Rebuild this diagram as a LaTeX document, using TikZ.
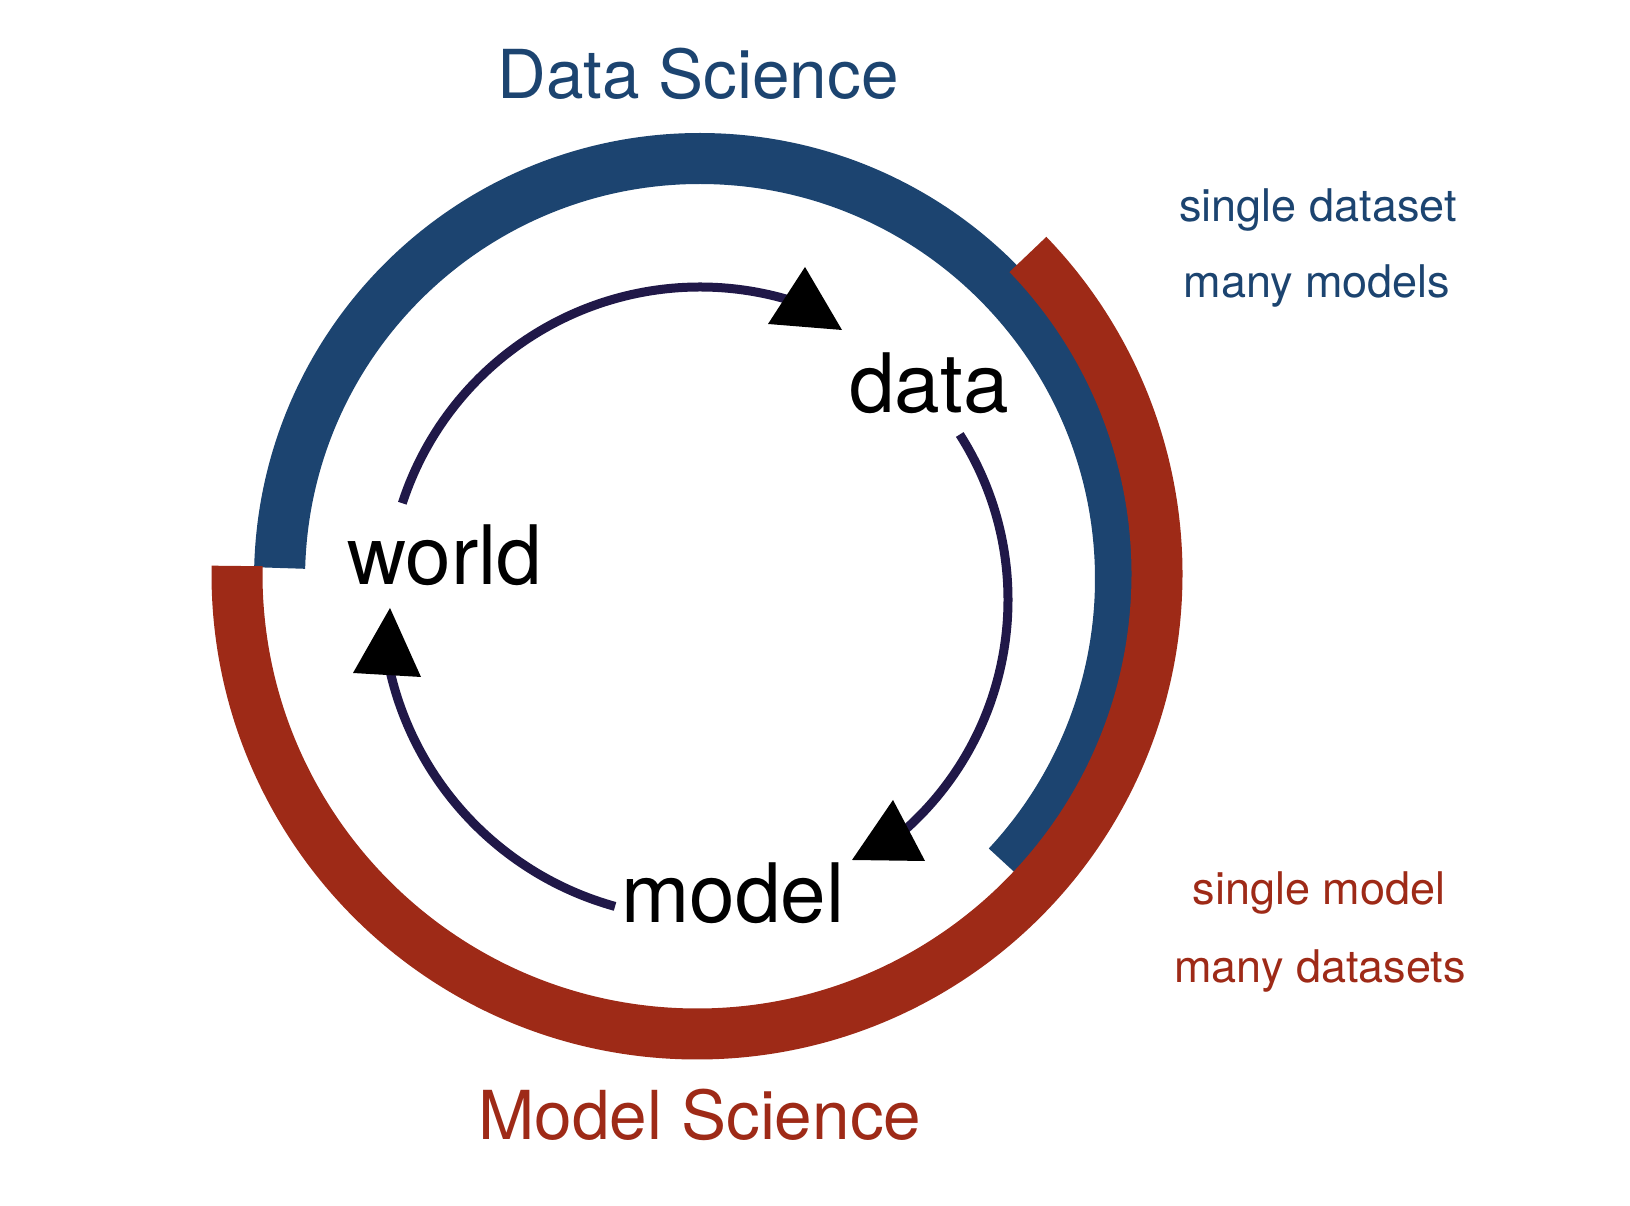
\documentclass[tikz,border=0pt]{standalone}
\usepackage{fontspec}
\setmainfont{TeX Gyre Heros}
\definecolor{dsblue}{RGB}{28,68,112}
\definecolor{msred}{RGB}{158,42,23}
\definecolor{cyc}{RGB}{32,24,72}
\begin{document}
\begin{tikzpicture}[x=1pt,y=1pt,
  band/.style={line width=51pt, line cap=butt},
  cycarc/.style={draw=cyc, line width=9pt, line cap=butt},
  tip/.style={fill=black},
  lbl/.style={inner sep=0pt, anchor=base, text=black, font=\fontsize{82}{90}\selectfont},
  ttl/.style={inner sep=0pt, anchor=base, font=\fontsize{67.5}{75}\selectfont},
  note/.style={inner sep=0pt, anchor=base, font=\fontsize{45}{50}\selectfont}]
\fill[white] (0,0) rectangle (1630,1206);
\useasboundingbox (0,0) rectangle (1630,1206);
% centres
\coordinate (cb) at (700,627);
\coordinate (cr) at (697,632);
\coordinate (ci) at (700,606);
% outer bands
\draw[band, dsblue] ([shift={(178.5:420.5)}]cb) arc[start angle=178.5, end angle=-43, radius=420.5];
\draw[band, msred] ([shift={(179:460)}]cr) arc[start angle=179, end angle=404, radius=460];
% cycle arcs
\draw[cycarc] ([shift={(162:313)}]ci) arc[start angle=162, end angle=70, radius=313];
\draw[cycarc] ([shift={(32.5:308)}]ci) arc[start angle=32.5, end angle=-52, radius=308];
\draw[cycarc] ([shift={(254.5:318)}]ci) arc[start angle=254.5, end angle=192, radius=318];
% arrow tips
\fill[tip] (805,939) -- (768,882) -- (842,876) -- cycle;
\fill[tip] (893,406) -- (852,346) -- (925,345) -- cycle;
\fill[tip] (390,598) -- (353,533) -- (421,529) -- cycle;
% labels
\node[lbl] (world) at (445,621) {world};
\node[lbl] (data) at (929,793) {data};
\node[lbl] (model) at (733,283) {model};
\node[ttl, text=dsblue] (ds) at (698,1107) {Data Science};
\node[ttl, text=msred] (ms) at (700,66) {Model Science};
\node[note, text=dsblue] (sd) at (1318,984) {single dataset};
\node[note, text=dsblue] (mm) at (1317,908) {many models};
\node[note, text=msred] (sm) at (1319,301) {single model};
\node[note, text=msred] (md) at (1320,223) {many datasets};
\end{tikzpicture}
\end{document}
